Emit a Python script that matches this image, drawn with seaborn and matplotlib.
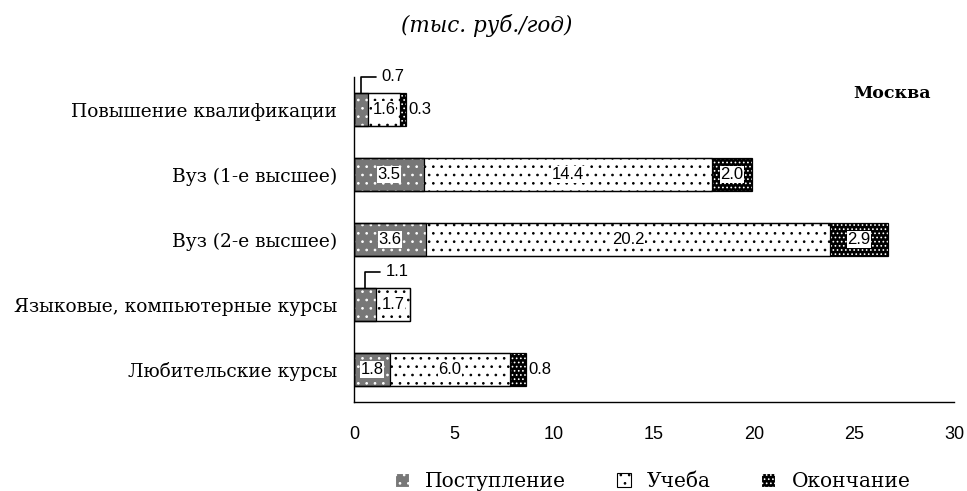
import pandas as pd
import matplotlib
matplotlib.use('Agg')
import matplotlib.pyplot as plt
import seaborn as sns
from matplotlib.patches import Patch

# данные
categories = ['Повышение квалификации', 'Вуз (1-е высшее)', 'Вуз (2-е высшее)',
              'Языковые, компьютерные курсы', 'Любительские курсы']
postuplenie = [0.7, 3.5, 3.6, 1.1, 1.8]
ucheba = [1.6, 14.4, 20.2, 1.7, 6.0]
okonchanie = [0.3, 2.0, 2.9, 0.0, 0.8]
stages = ['Поступление', 'Учеба', 'Окончание']
x_ticks = [0, 5, 10, 15, 20, 25, 30]

df = pd.DataFrame({'cat': categories, 'Поступление': postuplenie,
                   'Учеба': ucheba, 'Окончание': okonchanie})
df['end1'] = df['Поступление']
df['end2'] = df['end1'] + df['Учеба']
df['end3'] = df['end2'] + df['Окончание']

sns.set_style('white')
plt.rcParams['font.family'] = ['DejaVu Serif']
plt.rcParams['text.color'] = 'black'
plt.rcParams['xtick.color'] = 'black'
plt.rcParams['ytick.color'] = 'black'
plt.rcParams['hatch.linewidth'] = 0.7
num_font = 'Liberation Sans'

styles = {
    'Поступление': dict(face='#777777', hatch='..', hc='white'),
    'Учеба': dict(face='white', hatch='..', hc='black'),
    'Окончание': dict(face='black', hatch='....', hc='white'),
}

fig = plt.figure(figsize=(9.67, 4.91), dpi=100)
ax = fig.add_axes([0.366, 0.181, 0.6205, 0.662])

# накопленные полосы, от длинной к короткой
for stage, col in zip(stages[::-1], ['end3', 'end2', 'end1']):
    st = styles[stage]
    sns.barplot(data=df, x=col, y='cat', order=categories, orient='h', ax=ax,
                color=st['face'], hatch=st['hatch'], edgecolor=st['hc'],
                linewidth=0, width=0.5, errorbar=None, saturation=1)
for col in ['end3', 'end2', 'end1']:
    sns.barplot(data=df, x=col, y='cat', order=categories, orient='h', ax=ax,
                fill=False, color='black', linewidth=0.9, width=0.5, errorbar=None)

# подписи значений
box = dict(facecolor='white', edgecolor='none', pad=0.5)
for i, row in df.iterrows():
    p, u, o = row['Поступление'], row['Учеба'], row['Окончание']
    if p < 1.5:
        ax.annotate(f'{p:.1f}', xy=(p / 2, i - 0.25), xytext=(15, 12),
                    textcoords='offset points', ha='left', va='center',
                    fontsize=12, family=num_font,
                    arrowprops=dict(arrowstyle='-', color='black', lw=1.2,
                                    shrinkA=2, shrinkB=0,
                                    connectionstyle='angle,angleA=0,angleB=90,rad=0'))
    else:
        ax.text(p / 2, i, f'{p:.1f}', ha='center', va='center', fontsize=12,
                family=num_font, bbox=box)
    ax.text(row['end1'] + u / 2, i, f'{u:.1f}', ha='center', va='center',
            fontsize=12, family=num_font, bbox=box)
    if o > 0:
        if o < 1.5:
            ax.text(row['end3'] + 0.1, i, f'{o:.1f}', ha='left', va='center',
                    fontsize=12, family=num_font)
        else:
            ax.text(row['end2'] + o / 2, i, f'{o:.1f}', ha='center', va='center',
                    fontsize=12, family=num_font, bbox=box)

ax.set_xlim(0, 30)
ax.set_ylim(4.5, -0.5)
ax.set_xticks(x_ticks)
ax.set_xticklabels([str(t) for t in x_ticks], family=num_font, fontsize=13)
ax.set_yticks(range(len(categories)))
ax.set_yticklabels(categories, fontsize=13.4)
ax.set_yticks([k - 0.5 for k in range(len(categories) + 1)], minor=True)
ax.tick_params(axis='y', which='major', length=0, pad=12)
ax.tick_params(axis='y', which='minor', length=6, direction='out', width=1, color='black')
ax.tick_params(axis='x', length=6, direction='out', width=1, color='black', pad=11)
ax.set_xlabel('')
ax.set_ylabel('')
for s in ['top', 'right']:
    ax.spines[s].set_visible(False)
for s in ['left', 'bottom']:
    ax.spines[s].set_color('black')
    ax.spines[s].set_linewidth(1)

fig.text(0.503, 0.949, '(тыс. руб./год)', ha='center', va='center',
         fontsize=15.5, style='italic')
fig.text(0.962, 0.81, 'Москва', ha='right', va='center', fontsize=12.5,
         fontweight='bold')

handles = [Patch(facecolor=styles[s]['face'], hatch=styles[s]['hatch'],
                 edgecolor=styles[s]['hc'], label=s) for s in stages]
leg = fig.legend(handles=handles, loc='center', bbox_to_anchor=(0.675, 0.02),
                 ncol=3, frameon=False, fontsize=14.5, handlelength=0.7,
                 handleheight=0.7, handletextpad=0.8, columnspacing=2.5)
for h in leg.legend_handles:
    h.set_linewidth(0.8)

fig.savefig('out.png', dpi=100)
